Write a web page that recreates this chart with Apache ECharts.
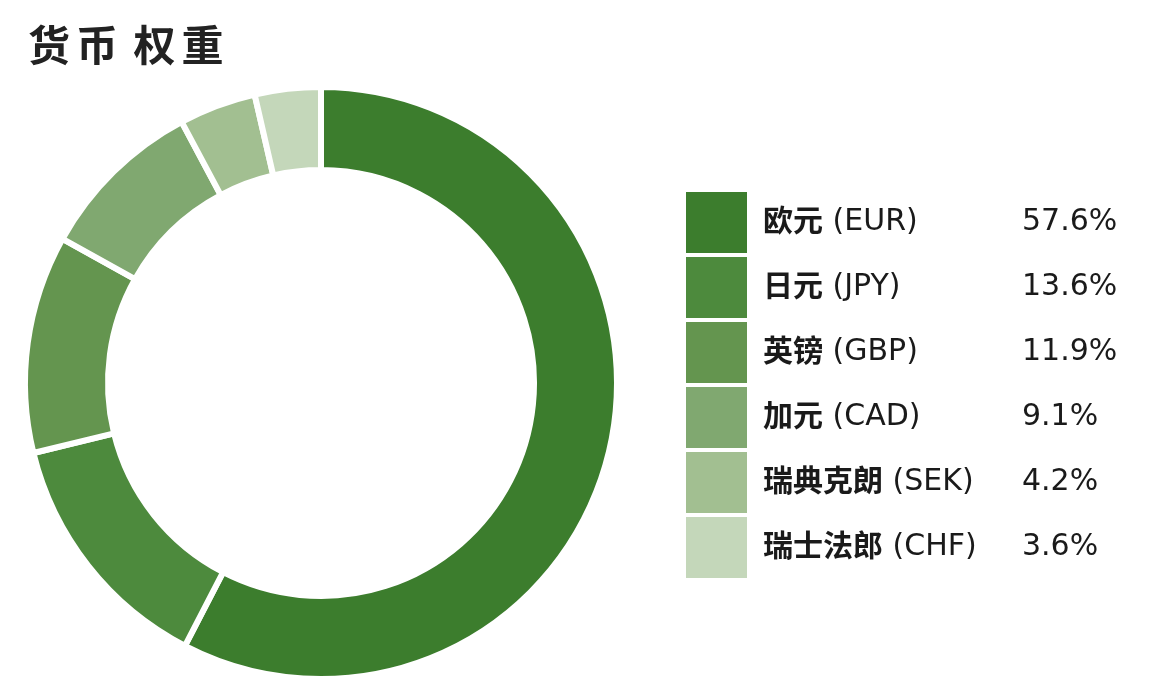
<!DOCTYPE html>
<html><head><meta charset="utf-8">
<script src="https://cdn.jsdelivr.net/npm/echarts@6/dist/echarts.min.js"></script>
<style>html,body{margin:0;padding:0;background:#fff;}#c{width:1170px;height:681px;}</style>
</head><body><div id="c"></div>
<script>
const names = ['欧元', '日元', '英镑', '加元', '瑞典克朗', '瑞士法郎'];
const codes = ['EUR', 'JPY', 'GBP', 'CAD', 'SEK', 'CHF'];
const weights = [57.6, 13.6, 11.9, 9.1, 4.2, 3.6];
const colors = ['#3c7d2d', '#4d8a3d', '#64954f', '#80a870', '#a2bf91', '#c4d7ba'];
const titleText = '货币 权重';

const labels = names.map((n, i) => n + ' (' + codes[i] + ')');
const pctOf = {};
labels.forEach((l, i) => { pctOf[l] = weights[i].toFixed(1) + '%'; });

const LATIN = '"DejaVu Sans", "Noto Sans CJK SC", sans-serif';
const CJK = '"Noto Sans CJK SC", sans-serif';
const titleRich = titleText.split('').map(ch => ch === ' ' ? '{s| }' : '{a|' + ch + '}').join('');

const chart = echarts.init(document.getElementById('c'));
chart.setOption({
  backgroundColor: '#fff',
  animation: false,
  title: {
    text: titleRich, left: 25, top: 20, padding: 0,
    textStyle: {
      rich: {
        a: { fontSize: 42, fontWeight: 'bold', color: '#222', fontFamily: CJK, padding: [0, 3, 0, 3], lineHeight: 50 },
        s: { fontSize: 42, fontFamily: CJK, lineHeight: 50 }
      }
    }
  },
  legend: [{
    orient: 'vertical', left: 684, top: 190, padding: 0,
    itemWidth: 63, itemHeight: 63, itemGap: 0, icon: 'rect',
    selectedMode: false,
    data: labels,
    formatter: function (name) {
      const idx = labels.indexOf(name);
      return '{n|' + names[idx] + '}{c| (' + codes[idx] + ')}';
    },
    textStyle: {
      lineHeight: 30,
      rich: {
        n: { fontSize: 30, fontWeight: 'bold', color: '#1a1a1a', fontFamily: CJK, padding: [0, 0, 6, 10], lineHeight: 30 },
        c: { fontSize: 30, color: '#1a1a1a', fontFamily: LATIN, lineHeight: 30 }
      }
    }
  }, {
    orient: 'vertical', left: 1015, top: 190, padding: 0,
    itemWidth: 1, itemHeight: 63, itemGap: 0, icon: 'rect',
    itemStyle: { color: 'rgba(0,0,0,0)', opacity: 0 },
    selectedMode: false,
    data: labels,
    formatter: function (name) { return pctOf[name]; },
    textStyle: { fontSize: 30, color: '#1a1a1a', fontFamily: LATIN, lineHeight: 30 }
  }],
  series: [{
    type: 'pie',
    center: [321, 383],
    radius: [213, 296],
    startAngle: 90,
    clockwise: true,
    label: { show: false },
    labelLine: { show: false },
    itemStyle: { borderColor: '#fff', borderWidth: 6 },
    emphasis: { disabled: true },
    data: labels.map((l, i) => ({ name: l, value: weights[i], itemStyle: { color: colors[i] } }))
  }]
});
</script></body></html>
